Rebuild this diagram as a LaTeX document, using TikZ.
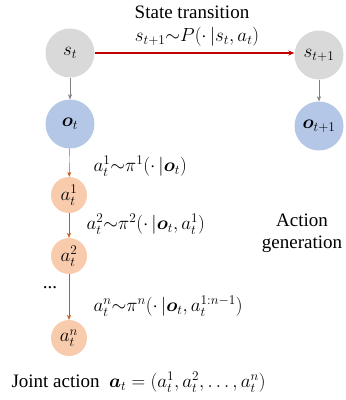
\RequirePackage{fix-cm}
\documentclass[tikz,border=0pt]{standalone}
\definecolor{stategray}{RGB}{217, 217, 217}
\definecolor{obsblue}{RGB}{180, 199, 231}
\definecolor{actorange}{RGB}{248, 203, 173}
\definecolor{transred}{RGB}{192, 0, 0}
\definecolor{arrorange}{RGB}{197, 90, 17}
\definecolor{arrgray}{RGB}{127, 127, 127}
\usepackage{fontspec}
\setmainfont{Liberation Serif}
\usepackage{amsmath}
\usepackage{amssymb}
\usetikzlibrary{arrows.meta, positioning}

\begin{document}
\begin{tikzpicture}[x=1pt, y=-1pt, font=\fontsize{19}{22}\selectfont,
    statenode/.style={circle, fill=stategray, minimum size=49pt, inner sep=0pt},
    obsnode/.style={circle, fill=obsblue, minimum size=49pt, inner sep=0pt},
    actnode/.style={circle, fill=actorange, minimum size=36pt, inner sep=0pt},
    grayarr/.style={-{Stealth[length=5pt, width=4pt]}, arrgray},
    orarr/.style={-{Stealth[length=5pt, width=4pt]}, arrorange}]
    \useasboundingbox (0, 0) rectangle (346, 400);

    % States and observations
    \node[statenode] (s) at (70, 53) {$s_t$};
    \node[statenode] (s1) at (319, 55) {$s_{t+1}$};
    \node[obsnode] (o) at (70, 124) {$\boldsymbol{o}_t$};
    \node[obsnode] (o1) at (319, 126) {$\boldsymbol{o}_{t+1}$};

    % Agent actions
    \node[actnode] (a1) at (69, 195) {$a_t^1$};
    \node[actnode] (a2) at (69, 256) {$a_t^2$};
    \node[actnode] (an) at (69, 338) {$a_t^n$};

    % State transition
    \draw[-{Stealth[length=6pt, width=5pt]}, transred, line width=1.3pt] (s.east) -- (s.east -| s1.west);
    \node (title) at (192, 12) {State transition};
    \node (trans) at (197, 37) {$s_{t+1}{\sim}P(\cdot\,|s_t, a_t)$};

    % Observations
    \draw[grayarr] (s) -- (o);
    \draw[grayarr] (s1) -- (o1);

    % Action generation
    \draw[orarr] (o) -- (a1);
    \draw[orarr] (a1) -- (a2);
    \draw[orarr] (a2) -- (an);
    \node[anchor=west] (pi1) at (90, 166) {$a_t^1{\sim}\pi^1(\cdot\,|\boldsymbol{o}_t)$};
    \node[anchor=west] (pi2) at (83, 224) {$a_t^2{\sim}\pi^2(\cdot\,|\boldsymbol{o}_t, a_t^1)$};
    \node[anchor=west] (pin) at (90, 306) {$a_t^n{\sim}\pi^n(\cdot\,|\boldsymbol{o}_t, a_t^{1:n-1})$};
    \node (dots) at (50, 288) {...};
    \node[align=center] (gen) at (302, 233) {Action\\generation};

    % Joint action
    \node[anchor=west] (joint) at (8, 382) {Joint action\ \ $\boldsymbol{a}_t = (a_t^1, a_t^2, \ldots, a_t^n)$};
\end{tikzpicture}
\end{document}
